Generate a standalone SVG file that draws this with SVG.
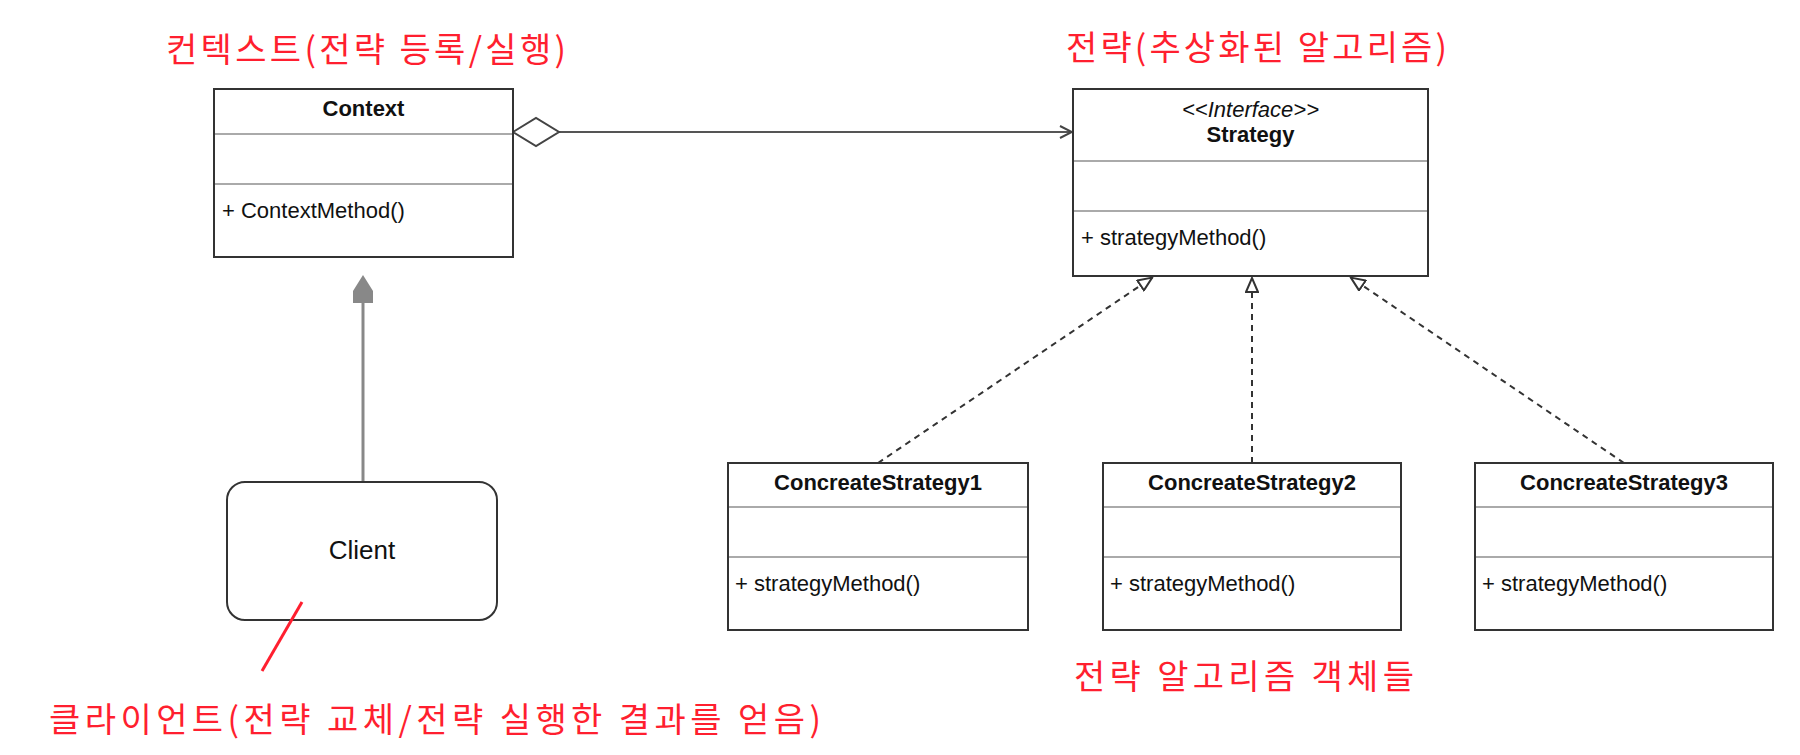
<svg xmlns="http://www.w3.org/2000/svg" width="1800" height="755" viewBox="0 0 1800 755">
<defs>
<style>
.box{fill:#fff;stroke:#333;stroke-width:2}
.div{stroke:#aaa;stroke-width:2}
.t{font-family:"Liberation Sans",Arial,sans-serif;font-size:22px;fill:#111}
.b{font-weight:bold}
.c{text-anchor:middle}
.i{font-style:italic}
.red{font-family:"Noto Sans CJK KR","Noto Sans",sans-serif;font-size:34px;fill:#ff1f2f}
.dash{stroke:#333;stroke-width:2;stroke-dasharray:6 5;fill:none}
</style>
<marker id="tri" viewBox="0 0 16 14" refX="16" refY="7" markerWidth="16" markerHeight="14" markerUnits="userSpaceOnUse" orient="auto">
<path d="M1,1 L15,7 L1,13 Z" fill="#fff" stroke="#333" stroke-width="2"/>
</marker>
<marker id="open" viewBox="0 0 14 14" refX="13" refY="7" markerWidth="14" markerHeight="14" markerUnits="userSpaceOnUse" orient="auto">
<path d="M1,1 L13,7 L1,13" fill="none" stroke="#444" stroke-width="2"/>
</marker>
</defs>
<rect width="1800" height="755" fill="#fff"/>

<g id="connectors">
<line x1="559" y1="132" x2="1072" y2="132" stroke="#555" stroke-width="2" marker-end="url(#open)"/>
<polygon points="513,132 536,118 559,132 536,146" fill="#fff" stroke="#444" stroke-width="2"/>
<line x1="363" y1="482" x2="363" y2="300" stroke="#888" stroke-width="3"/>
<polygon points="363,275 373,291 373,303 353,303 353,291" fill="#888"/>
<line class="dash" x1="878" y1="463" x2="1153" y2="277" marker-end="url(#tri)"/>
<line class="dash" x1="1252" y1="463" x2="1252" y2="277" marker-end="url(#tri)"/>
<line class="dash" x1="1624" y1="463" x2="1350" y2="277" marker-end="url(#tri)"/>
</g>

<g id="context">
<rect class="box" x="214" y="89" width="299" height="168"/>
<line class="div" x1="215" y1="134" x2="512" y2="134"/>
<line class="div" x1="215" y1="184" x2="512" y2="184"/>
<text class="t b c" x="363.5" y="116">Context</text>
<text class="t" x="222" y="218">+ ContextMethod()</text>
</g>

<g id="strategy">
<rect class="box" x="1073" y="89" width="355" height="187"/>
<line class="div" x1="1074" y1="161" x2="1427" y2="161"/>
<line class="div" x1="1074" y1="211" x2="1427" y2="211"/>
<text class="t i c" x="1250.5" y="117">&lt;&lt;Interface&gt;&gt;</text>
<text class="t b c" x="1250.5" y="142">Strategy</text>
<text class="t" x="1081" y="245">+ strategyMethod()</text>
</g>

<g id="client">
<rect class="box" x="227" y="482" width="270" height="138" rx="18" ry="18"/>
<text class="t c" x="362" y="559" style="font-size:26px">Client</text>
</g>

<g id="concrete1">
<rect class="box" x="728" y="463" width="300" height="167"/>
<line class="div" x1="729" y1="507" x2="1027" y2="507"/>
<line class="div" x1="729" y1="557" x2="1027" y2="557"/>
<text class="t b c" x="878" y="490">ConcreateStrategy1</text>
<text class="t" x="735" y="591">+ strategyMethod()</text>
</g>

<g id="concrete2">
<rect class="box" x="1103" y="463" width="298" height="167"/>
<line class="div" x1="1104" y1="507" x2="1400" y2="507"/>
<line class="div" x1="1104" y1="557" x2="1400" y2="557"/>
<text class="t b c" x="1252" y="490">ConcreateStrategy2</text>
<text class="t" x="1110" y="591">+ strategyMethod()</text>
</g>

<g id="concrete3">
<rect class="box" x="1475" y="463" width="298" height="167"/>
<line class="div" x1="1476" y1="507" x2="1772" y2="507"/>
<line class="div" x1="1476" y1="557" x2="1772" y2="557"/>
<text class="t b c" x="1624" y="490">ConcreateStrategy3</text>
<text class="t" x="1482" y="591">+ strategyMethod()</text>
</g>

<g id="labels">
<line x1="302" y1="602" x2="262" y2="671" stroke="#ff1f2f" stroke-width="3"/>
<text class="red" x="166" y="62" textLength="400" lengthAdjust="spacing">컨텍스트(전략 등록/실행)</text>
<text class="red" x="1066" y="60" textLength="381" lengthAdjust="spacing">전략(추상화된 알고리즘)</text>
<text class="red" x="1074" y="689" textLength="340" lengthAdjust="spacing">전략 알고리즘 객체들</text>
<text class="red" x="49" y="732" textLength="772" lengthAdjust="spacing">클라이언트(전략 교체/전략 실행한 결과를 얻음)</text>
</g>
</svg>
